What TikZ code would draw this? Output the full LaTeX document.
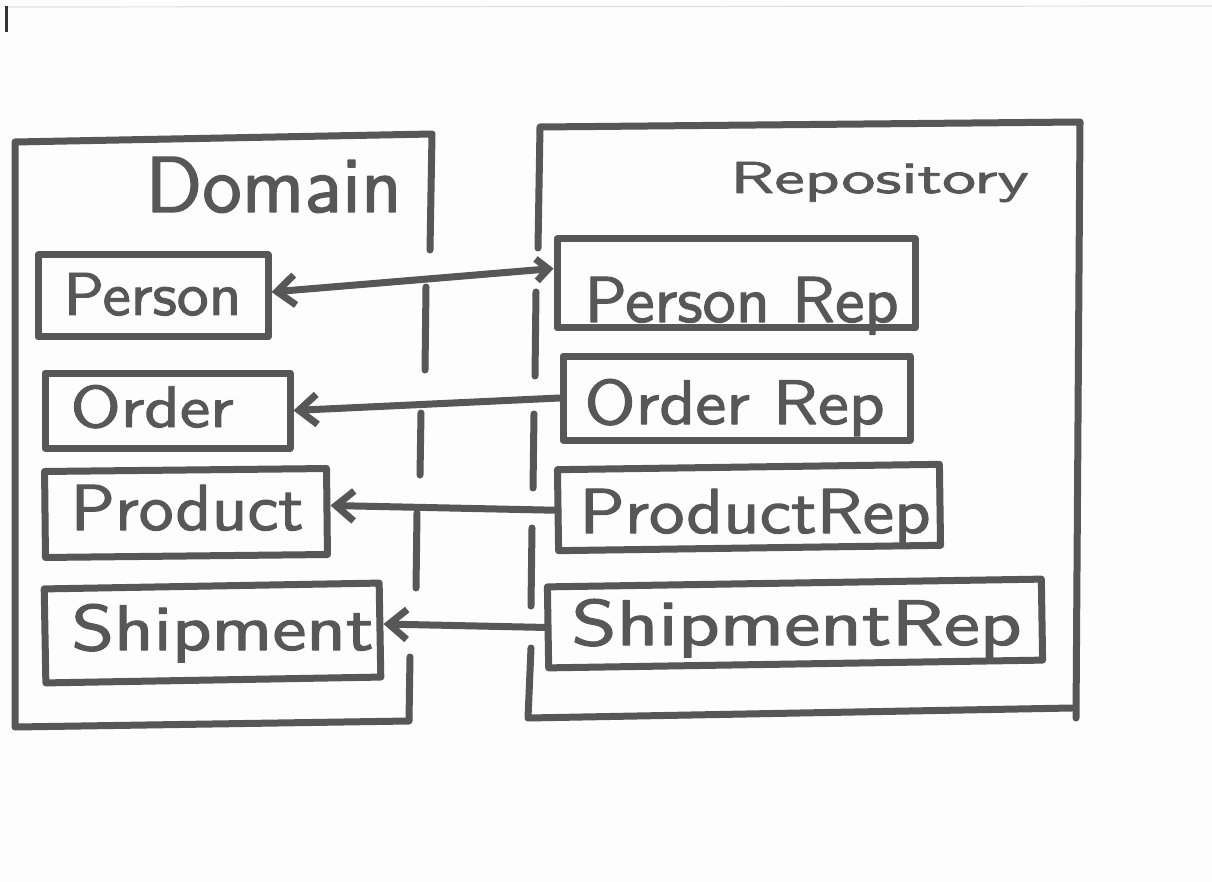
\documentclass[tikz,border=0pt]{standalone}
\usepackage{fontspec}
\usepackage{graphicx}
\usetikzlibrary{arrows.meta}

\newfontfamily\marker[FakeBold=1.6]{Latin Modern Sans}

\definecolor{ink}{HTML}{575757}
\definecolor{paper}{HTML}{FDFDFD}

% marker-style label: text stretched to a given width and cap height (in pt)
\newcommand{\handtext}[3]{\resizebox{#1pt}{#2pt}{#3}}

\begin{document}
\begin{tikzpicture}[
  x=1pt, y=-1pt,
  color=ink,
  line width=7pt, line cap=round, line join=round,
  box/.style={draw, rectangle, inner sep=0pt},
  lbl/.style={anchor=base west, inner sep=0pt, font=\marker},
  arr/.style={-{Straight Barb[length=18pt,width=30pt]}},
  biarr/.style={{Straight Barb[length=18pt,width=30pt]}-{Straight Barb[length=12pt,width=22pt]}}
]
\useasboundingbox (0,0) rectangle (1212,882);
\fill[paper] (0,0) rectangle (1212,882);

% scanner edge at the top of the sheet
\draw[line width=1.2pt, black!12] (6,7) -- (1212,6);
\fill[black!80] (5,6) rectangle (8,32);

% Domain frame, right side partly dashed
\draw (430,250) -- (432,134) -- (15,142) -- (15,727) -- (409,721) -- (410,657);
\draw (426,287) -- (425,370);
\draw (421,413) -- (420,475);
\draw (417,513) -- (416,588);

% Repository frame, left side partly dashed
\draw (538,248) -- (540,127) -- (1080,122) -- (1076,718);
\draw (531,648) -- (528,718) -- (1072,708);
\draw (536,292) -- (535,376);
\draw (534,414) -- (533,488);
\draw (532,528) -- (531,606);

% frame titles
\node[lbl] (domain-title) at (142,212) {\handtext{256}{55}{Domain}};
\node[lbl] (repo-title) at (727,193) {\handtext{298}{31}{Repository}};

% domain classes
\node[box, minimum width=230pt, minimum height=82pt] (person) at (153,296) {};
\node[box, minimum width=245pt, minimum height=75pt] (order) at (167.5,410.5) {};
\node[box, minimum width=282pt, minimum height=86pt, rotate=0.6] (product) at (186,513) {};
\node[box, minimum width=335pt, minimum height=94pt, rotate=1] (shipment) at (212.5,633) {};

\node[lbl] (person-text) at (60,315) {\handtext{178}{42}{Person}};
\node[lbl] (order-text) at (67,427) {\handtext{163}{42}{Order}};
\node[lbl] (product-text) at (67,530) {\handtext{233}{45}{Product}};
\node[lbl] (shipment-text) at (68,650) {\handtext{302}{46}{Shipment}};

% repositories
\node[box, minimum width=358pt, minimum height=89pt] (personrep) at (736,283.5) {};
\node[box, minimum width=347pt, minimum height=84pt] (orderrep) at (736.5,398) {};
\node[box, minimum width=382pt, minimum height=81pt, rotate=0.8] (productrep) at (749,507.5) {};
\node[box, minimum width=494pt, minimum height=81pt, rotate=0.9] (shipmentrep) at (795,623.5) {};

\node[lbl] (personrep-text) at (581,322) {\handtext{314}{45}{Person Rep}};
\node[lbl] (orderrep-text) at (581,424) {\handtext{300}{45}{Order Rep}};
\node[lbl] (productrep-text) at (576,533) {\handtext{351}{44}{ProductRep}};
\node[lbl] (shipmentrep-text) at (568,645) {\handtext{450}{46}{ShipmentRep}};

% links between classes and repositories
\draw[biarr] ([yshift=4pt]person.east) -- ([yshift=15pt]personrep.west);
\draw[arr] (orderrep.west) -- (order.east);
\draw[arr] (productrep.west) -- ([yshift=6pt]product.east);
\draw[arr] (shipmentrep.west) -- ([yshift=6pt]shipment.east);
\end{tikzpicture}
\end{document}
